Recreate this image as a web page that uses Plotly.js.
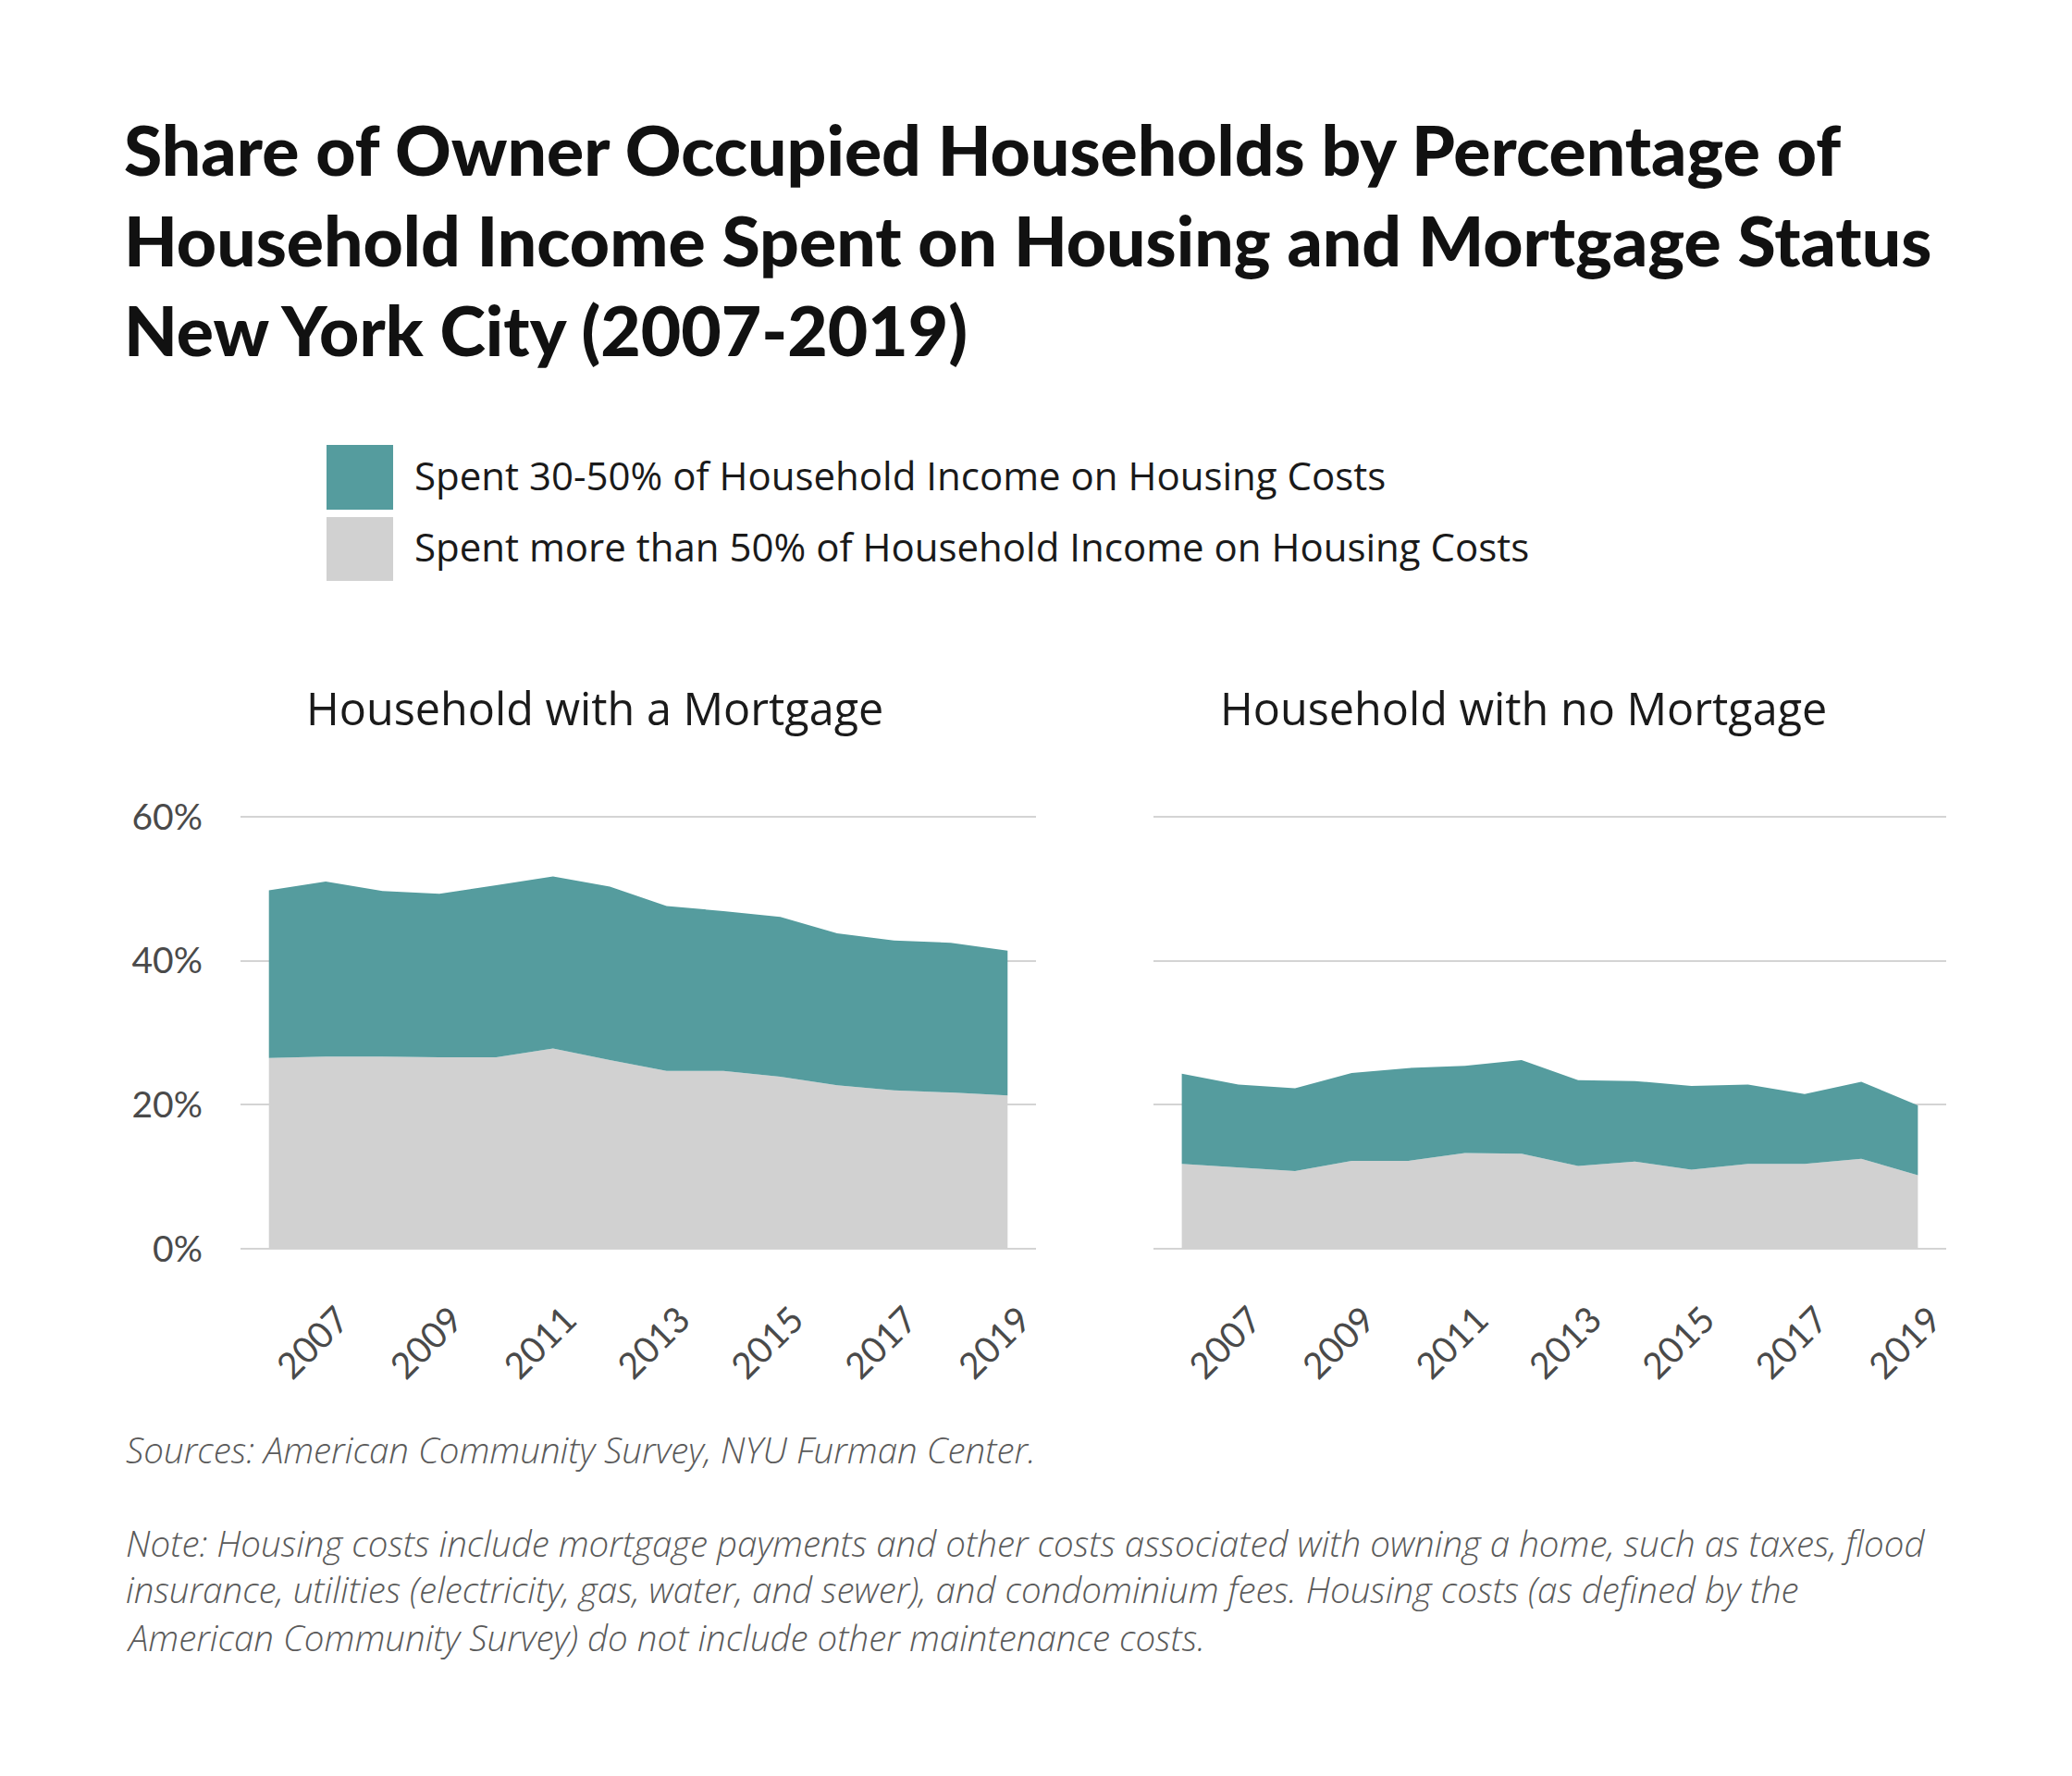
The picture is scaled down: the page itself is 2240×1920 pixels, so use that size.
<!DOCTYPE html>
<html>
<head>
<meta charset="utf-8">
<script src="https://cdn.plot.ly/plotly-3.0.1.min.js"></script>
<style>
  html, body { margin: 0; padding: 0; background: #ffffff; }
  #chart { width: 2240px; height: 1920px; }
</style>
</head>
<body>
<div id="chart"></div>
<script>
// ---- Data ----
const years = [2006, 2007, 2008, 2009, 2010, 2011, 2012, 2013, 2014, 2015, 2016, 2017, 2018, 2019];
const tickYears = [2007, 2009, 2011, 2013, 2015, 2017, 2019];

// Household with a Mortgage (% of owner occupied households)
const mortgageOver50 = [26.5, 26.7, 26.7, 26.6, 26.6, 27.8, 26.2, 24.7, 24.7, 23.9, 22.7, 22.0, 21.7, 21.3];
const mortgage30to50 = [23.3, 24.3, 23.0, 22.7, 23.9, 23.9, 24.1, 22.9, 22.2, 22.2, 21.1, 20.8, 20.8, 20.1];

// Household with no Mortgage
const noMortgageOver50 = [11.8, 11.3, 10.8, 12.2, 12.2, 13.3, 13.2, 11.5, 12.1, 11.0, 11.8, 11.8, 12.5, 10.2];
const noMortgage30to50 = [12.5, 11.5, 11.5, 12.2, 12.9, 12.1, 13.0, 11.9, 11.2, 11.6, 11.0, 9.7, 10.7, 9.7];

const yTickVals = [0, 20, 40, 60];
const yTickText = ['0%', '20%', '40%', '60%'];

const seriesNames = [
  'Spent 30-50% of Household Income on Housing Costs',
  'Spent more than 50% of Household Income on Housing Costs'
];
const panelTitles = ['Household with a Mortgage', 'Household with no Mortgage'];

// ---- Styles ----
const TEAL = '#559c9e';
const GREY = '#d1d1d1';
const W = 2240, H = 1920;
const px = x => x / W;
const py = y => 1 - y / H;

function area(x, y, name, color, xa, ya, group) {
  return {
    type: 'scatter', mode: 'lines', x: x, y: y, name: name,
    stackgroup: group, line: { width: 0, color: color }, fillcolor: color,
    xaxis: xa, yaxis: ya, showlegend: false, hoverinfo: 'x+y'
  };
}

const traces = [
  area(years, mortgageOver50, seriesNames[1], GREY, 'x', 'y', 'left'),
  area(years, mortgage30to50, seriesNames[0], TEAL, 'x', 'y', 'left'),
  area(years, noMortgageOver50, seriesNames[1], GREY, 'x2', 'y2', 'right'),
  area(years, noMortgage30to50, seriesNames[0], TEAL, 'x2', 'y2', 'right')
];

const tickFont = { family: 'Lato, sans-serif', size: 39, color: '#4a4a4a' };
const yRange = [-0.5, 61];
const yDom = [py(1353.9), py(875.2)];

function xAxis(domain, anchor) {
  return {
    domain: domain, anchor: anchor, range: [2005.5, 2019.5],
    tickmode: 'array', tickvals: tickYears, ticktext: tickYears.map(String),
    tickangle: -45, showgrid: false, zeroline: false, showline: false,
    ticks: '', tickfont: tickFont, ticklabelstandoff: 41, ticklabelshift: 14, fixedrange: true
  };
}
function yAxis(anchor, showLabels) {
  return {
    domain: yDom, anchor: anchor, range: yRange,
    tickmode: 'array', tickvals: yTickVals, ticktext: yTickText,
    showticklabels: showLabels, showgrid: true, gridcolor: '#d4d4d4', gridwidth: 2,
    zeroline: false, showline: false, ticks: '', tickfont: tickFont,
    ticklabelstandoff: 40, fixedrange: true
  };
}

const bodyFont = 'Open Sans, sans-serif';
const footFont = { family: bodyFont, size: 38.5, color: '#5a5a5a', weight: 300 };
const annotations = [
  // legend labels
  { xref: 'paper', yref: 'paper', x: px(446), y: py(513), xanchor: 'left', yanchor: 'middle',
    text: seriesNames[0], showarrow: false, font: { family: bodyFont, size: 42, color: '#1a1a1a' } },
  { xref: 'paper', yref: 'paper', x: px(446), y: py(590), xanchor: 'left', yanchor: 'middle',
    text: seriesNames[1], showarrow: false, font: { family: bodyFont, size: 42, color: '#1a1a1a' } },
  // panel titles
  { xref: 'paper', yref: 'paper', x: px(643), y: py(765), xanchor: 'center', yanchor: 'middle',
    text: panelTitles[0], showarrow: false, font: { family: bodyFont, size: 48.5, color: '#1a1a1a' } },
  { xref: 'paper', yref: 'paper', x: px(1647), y: py(765), xanchor: 'center', yanchor: 'middle',
    text: panelTitles[1], showarrow: false, font: { family: bodyFont, size: 48.5, color: '#1a1a1a' } },
  // footer
  { xref: 'paper', yref: 'paper', x: px(134), y: py(1567), xanchor: 'left', yanchor: 'middle',
    text: '<i>Sources: American Community Survey, NYU Furman Center.</i>', showarrow: false, font: footFont },
  { xref: 'paper', yref: 'paper', x: px(134), y: py(1668), xanchor: 'left', yanchor: 'middle',
    text: '<i>Note: Housing costs include mortgage payments and other costs associated with owning a home, such as taxes, flood</i>', showarrow: false, font: footFont },
  { xref: 'paper', yref: 'paper', x: px(134), y: py(1718), xanchor: 'left', yanchor: 'middle',
    text: '<i>insurance, utilities (electricity, gas, water, and sewer), and condominium fees. Housing costs (as defined by the</i>', showarrow: false, font: footFont },
  { xref: 'paper', yref: 'paper', x: px(134), y: py(1770), xanchor: 'left', yanchor: 'middle',
    text: '<i>American Community Survey) do not include other maintenance costs.</i>', showarrow: false, font: footFont }
];

const shapes = [
  { type: 'rect', xref: 'paper', yref: 'paper', x0: px(353), x1: px(425), y0: py(551), y1: py(481),
    fillcolor: TEAL, line: { width: 0 } },
  { type: 'rect', xref: 'paper', yref: 'paper', x0: px(353), x1: px(425), y0: py(628), y1: py(559),
    fillcolor: GREY, line: { width: 0 } }
];

const layout = {
  width: W, height: H,
  margin: { l: 0, r: 0, t: 0, b: 0 },
  paper_bgcolor: '#ffffff', plot_bgcolor: '#ffffff',
  showlegend: false,
  title: {
    text: 'Share of Owner Occupied Households by Percentage of<br>Household Income Spent on Housing and Mortgage Status<br>New York City (2007-2019)',
    x: px(134), xanchor: 'left', xref: 'paper',
    y: py(190), yanchor: 'top', yref: 'container',
    font: { family: 'Lato, sans-serif', size: 75, color: '#111111', weight: 900 }
  },
  xaxis: xAxis([px(260), px(1120)], 'y'),
  yaxis: yAxis('x', true),
  xaxis2: xAxis([px(1247), px(2104)], 'y2'),
  yaxis2: yAxis('x2', false),
  annotations: annotations,
  shapes: shapes
};

Plotly.newPlot('chart', traces, layout, { staticPlot: true, displayModeBar: false });
</script>
</body>
</html>
